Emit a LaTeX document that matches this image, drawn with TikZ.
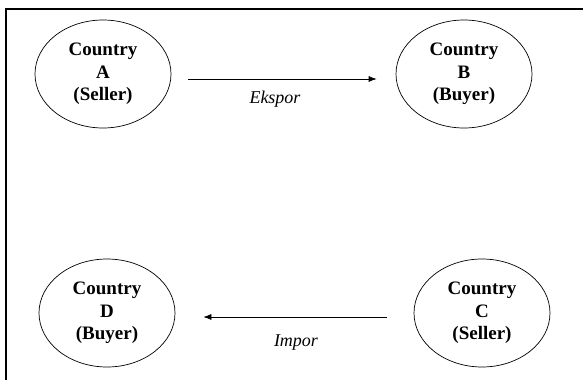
\documentclass[tikz,border=0pt]{standalone}
\usepackage{fontspec}
\setmainfont{Liberation Serif}
\usetikzlibrary{shapes.geometric,arrows.meta}
\begin{document}
\begin{tikzpicture}[x=1pt,y=-1pt]
        \useasboundingbox (0,0) rectangle (583,380);
        \draw[line width=1.8pt] (6,380) -- (6,9) -- (583,9);
        \begin{scope}[every node/.style={ellipse,draw,line width=0.7pt,minimum width=136pt,minimum height=108pt,inner sep=0pt,align=center,font=\fontsize{19}{22.5}\selectfont\bfseries,execute at begin node={\rule{0pt}{23pt}}}]
            \node (a) at (103,74) {Country\\A\\(Seller)};
            \node (b) at (464,74) {Country\\B\\(Buyer)};
            \node (c) at (482,313) {Country\\C\\(Seller)};
            \node (d) at (107,313) {Country\\D\\(Buyer)};
        \end{scope}
        \begin{scope}[every node/.style={font=\fontsize{18}{20}\selectfont\itshape}]
            \draw[-{Latex[length=8pt,width=6pt]},line width=0.7pt,shorten <=17pt,shorten >=19pt] ([yshift=-5pt]a.east) -- ([yshift=-5pt]b.west);
            \node (ekspor) at (275,99) {Ekspor};
            \draw[-{Latex[length=8pt,width=6pt]},line width=0.7pt,shorten <=27pt,shorten >=28pt] ([yshift=-4pt]c.west) -- ([yshift=-4pt]d.east);
            \node (impor) at (296,343) {Impor};
        \end{scope}
    \end{tikzpicture}
\end{document}
